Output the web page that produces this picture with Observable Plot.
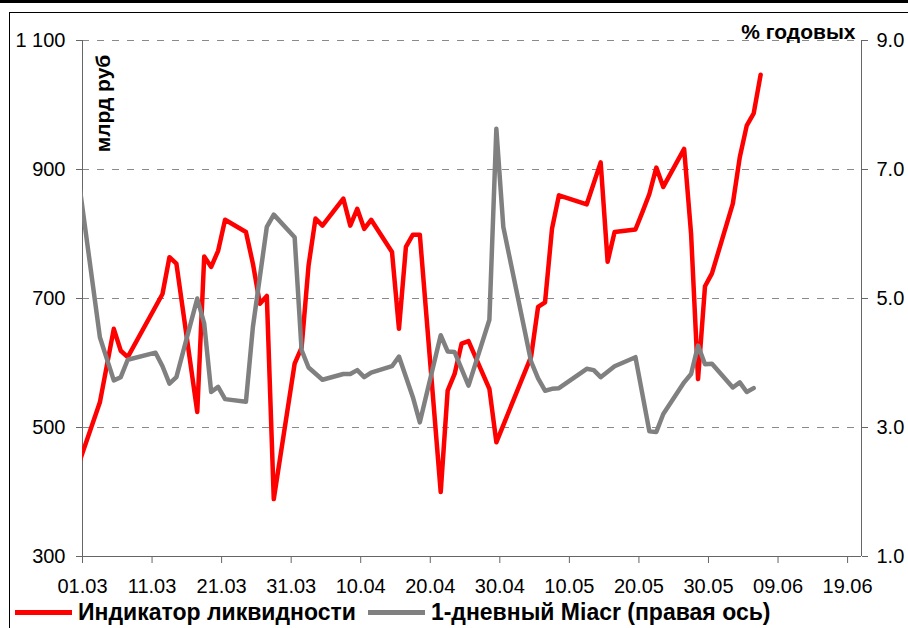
<!DOCTYPE html>
<html><head><meta charset="utf-8">
<script src="https://cdn.jsdelivr.net/npm/d3@7"></script>
<script src="https://cdn.jsdelivr.net/npm/@observablehq/plot@0.6"></script>
<style>
html,body{margin:0;padding:0;background:#fff;}
#wrap{position:relative;width:908px;height:628px;overflow:hidden;font-family:"Liberation Sans",Arial,sans-serif;}
#topbar{position:absolute;left:0;top:0;width:908px;height:3px;background:#000;}
#frame{position:absolute;left:9px;top:12px;width:920px;height:640px;border:1px solid #000;box-sizing:border-box;}
#chart{position:absolute;left:0;top:0;}
#legend{position:absolute;left:15px;top:598px;height:28px;display:flex;align-items:center;font-weight:bold;font-size:23px;color:#000;white-space:nowrap;}
.sw{display:inline-block;width:57px;height:5px;margin-right:6px;}
</style></head><body>
<div id="wrap"><div id="topbar"></div><div id="frame"></div><div id="chart"></div>
<div id="legend"><span class="sw" style="background:#ff0000"></span><span id="l1"></span><span class="sw" style="background:#808080;margin-left:12px"></span><span id="l2"></span></div></div>
<script>
// ---------- data ----------
const YEAR = 2008;
const seriesNames = ["Индикатор ликвидности", "1-дневный Miacr (правая ось)"];
const leftTitle = "млрд руб";
const rightTitle = "% годовых";

const liquidityDates = ["02-29","03-03","03-05","03-06","03-07","03-12","03-13","03-14","03-17","03-18","03-19","03-20","03-21",
  "03-24","03-25","03-26","03-27","03-28","03-31","04-01","04-02","04-03","04-04","04-07","04-08","04-09","04-10","04-11",
  "04-14","04-15","04-16","04-17","04-18","04-21","04-22","04-23","04-24","04-25","04-28","04-29","05-04","05-05","05-06",
  "05-07","05-08","05-12","05-14","05-15","05-16","05-19","05-20","05-21","05-22","05-23","05-26","05-27","05-28","05-29",
  "05-30","06-02","06-03","06-04","06-05","06-06"];
const liquidityValues = [445,539,653,619,609,707,764,754,524,765,749,774,822,
  803,754,692,704,389,599,624,751,824,813,855,813,839,808,822,
  772,653,780,799,799,400,557,583,630,634,560,477,610,687,694,
  808,860,846,911,757,803,807,834,862,903,873,932,800,575,719,
  739,847,919,968,987,1047];

const miacrDates = ["02-29","03-03","03-05","03-06","03-07","03-11","03-12","03-13","03-14","03-17","03-18","03-19","03-20",
  "03-21","03-24","03-25","03-27","03-28","03-31","04-01","04-02","04-04","04-07","04-08","04-09","04-10","04-11","04-14",
  "04-15","04-17","04-18","04-21","04-22","04-23","04-25","04-28","04-29","04-30","05-04","05-05","05-06","05-07","05-08",
  "05-12","05-13","05-14","05-16","05-19","05-21","05-22","05-23","05-26","05-27","05-28","05-29","05-30","06-02","06-03",
  "06-04","06-05"];
const miacrValues = [6.80,4.40,3.73,3.78,4.05,4.16,3.95,3.68,3.78,5.00,4.61,3.55,3.63,
  3.44,3.40,4.56,6.11,6.30,5.95,4.20,3.93,3.74,3.83,3.83,3.89,3.78,3.85,3.95,
  4.10,3.47,3.08,4.43,4.18,4.17,3.65,4.67,7.63,6.11,4.02,3.76,3.57,3.60,3.61,
  3.91,3.89,3.78,3.95,4.09,2.94,2.93,3.21,3.70,3.83,4.27,3.98,3.99,3.62,3.70,
  3.55,3.61];

const xTickLabels = ["01.03","11.03","21.03","31.03","10.04","20.04","30.04","10.05","20.05","30.05","09.06","19.06"];
const leftTicks = [300, 500, 700, 900, 1100];
const rightTicks = [1, 3, 5, 7, 9];
const xStart = "03-01", xEnd = "06-21";
const yLeftDomain = [300, 1100];
const yRightDomain = [1, 9];

// ---------- helpers ----------
const dayStart = s => new Date(`${YEAR}-${s}T00:00:00Z`);
const dayMid = s => new Date(`${YEAR}-${s}T12:00:00Z`); // points sit in the middle of their day slot
const labelToDate = l => { const [d, m] = l.split("."); return new Date(Date.UTC(YEAR, +m - 1, +d)); };
const tickDates = xTickLabels.map(labelToDate);
const labelByTime = new Map(tickDates.map((d, i) => [+d, xTickLabels[i]]));
const k = (yLeftDomain[1] - yLeftDomain[0]) / (yRightDomain[1] - yRightDomain[0]);
const toLeft = v => yLeftDomain[0] + (v - yRightDomain[0]) * k;
const fromLeft = v => yRightDomain[0] + (v - yLeftDomain[0]) / k;
const fmtThousands = v => String(v).replace(/\B(?=(\d{3})+(?!\d))/g, "\u00a0");

const liquidity = liquidityDates.map((d, i) => ({date: dayMid(d), value: liquidityValues[i]}));
const miacr = miacrDates.map((d, i) => ({date: dayMid(d), value: toLeft(miacrValues[i])}));

document.getElementById("l1").textContent = seriesNames[0];
document.getElementById("l2").textContent = seriesNames[1];

const AXIS = "#666666";
const chart = Plot.plot({
  width: 908,
  height: 600,
  marginLeft: 82,
  marginRight: 47,
  marginTop: 40,
  marginBottom: 44,
  style: {fontFamily: '"Liberation Sans", Arial, sans-serif', fontSize: "20px", color: "#000", background: "transparent", overflow: "visible"},
  x: {type: "utc", domain: [dayStart(xStart), dayStart(xEnd)]},
  y: {domain: yLeftDomain},
  marks: [
    Plot.ruleY(leftTicks.slice(1), {stroke: "#8a8a8a", strokeWidth: 1, strokeDasharray: "7,8"}),
    Plot.ruleX([dayStart(xStart), dayStart(xEnd)], {stroke: AXIS, strokeWidth: 1}),
    Plot.ruleY([yLeftDomain[0]], {stroke: AXIS, strokeWidth: 1}),
    Plot.axisY(leftTicks, {anchor: "left", tickSize: 6, tickPadding: 11, stroke: AXIS, fill: "#000", fontSize: 20, tickFormat: fmtThousands, label: null}),
    Plot.axisY(rightTicks.map(toLeft), {anchor: "right", tickSize: 6, tickPadding: 9, stroke: AXIS, fill: "#000", fontSize: 20, tickFormat: v => fromLeft(v).toFixed(1), label: null}),
    Plot.axisX(tickDates, {anchor: "bottom", tickSize: 7, tickPadding: 15, stroke: AXIS, fill: "#000", fontSize: 20, tickFormat: d => labelByTime.get(+d), label: null}),
    Plot.line(liquidity, {x: "date", y: "value", stroke: "#ff0000", strokeWidth: 4.5, clip: true}),
    Plot.line(miacr, {x: "date", y: "value", stroke: "#808080", strokeWidth: 4.5, clip: true}),
    Plot.text([leftTitle], {frameAnchor: "top-left", dx: 21, dy: 63, rotate: -90, textAnchor: "middle", lineAnchor: "middle", fontWeight: "bold", fontSize: 21, fill: "#000"}),
    Plot.text([rightTitle], {frameAnchor: "top-right", dx: -6, dy: -2, textAnchor: "end", lineAnchor: "bottom", fontWeight: "bold", fontSize: 21, fill: "#000"})
  ]
});
document.getElementById("chart").appendChild(chart);
</script>
</body></html>
